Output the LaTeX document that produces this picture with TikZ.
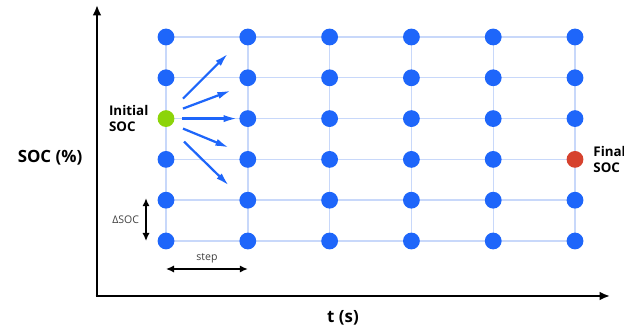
\documentclass[tikz,border=0pt]{standalone}
\usepackage{fontspec}
\setmainfont{Open Sans}
\usepackage{tikz}
\usetikzlibrary{arrows.meta, positioning, calc}
\definecolor{dotblue}{RGB}{30,102,250}
\definecolor{gridblue}{RGB}{200,216,250}
\definecolor{initgreen}{RGB}{140,212,10}
\definecolor{finalred}{RGB}{214,66,46}
\tikzset{
  dot/.style={circle, fill=dotblue, minimum size=0.42cm, inner sep=0pt},
  dot 0-3/.style={fill=initgreen},
  dot 5-2/.style={fill=finalred},
  gridline/.style={gridblue, line width=1pt},
  axis/.style={-{Latex[length=2.6mm, width=2.2mm]}, line width=1.8pt, black},
  move/.style={-{Latex[length=3.4mm, width=1.8mm]}, line width=1.6pt, dotblue},
  dim/.style={{Latex[length=2mm, width=1.8mm]}-{Latex[length=2mm, width=1.8mm]}, line width=1pt, black},
  bigtext/.style={font=\bfseries\fontsize{12}{14}\selectfont},
  endtext/.style={font=\bfseries\fontsize{9.5}{11}\selectfont, align=left},
  smalltext/.style={font=\fontsize{7.5}{9}\selectfont, text=black!75}
}
\begin{document}
\begin{tikzpicture}
  \useasboundingbox (0,0) rectangle (15.6,8.325);

  % Grid lines
  \foreach \r in {0,...,5}
    \draw[gridline] (4.15,2.3+1.02*\r) -- (14.375,2.3+1.02*\r);
  \foreach \c in {0,...,5}
    \draw[gridline] (4.15+2.045*\c,2.3) -- (4.15+2.045*\c,7.4);

  % Grid points
  \foreach \c in {0,...,5}
    \foreach \r in {0,...,5}
      \node[dot, dot \c-\r/.try] (n-\c-\r) at (4.15+2.045*\c,2.3+1.02*\r) {};

  % Axes
  \coordinate (orig) at (2.425,0.925);
  \coordinate (ytop) at (2.425,8.2);
  \coordinate (xend) at (15.25,0.925);
  \draw[axis] (orig) -- (ytop);
  \draw[axis] ([xshift=-0.9pt]orig) -- (xend);
  \node[bigtext] (ylab) at (1.25,4.375) {SOC (\%)};
  \node[bigtext] (xlab) at (8.575,0.375) {t (s)};

  % Start and end labels
  \node[endtext, anchor=east] (initlab) at ([xshift=-0.1cm]n-0-3.west) {Initial\\SOC};
  \node[endtext, anchor=west] (finallab) at ([xshift=0.12cm]n-5-2.east) {Final\\SOC};

  % Possible moves
  \draw[move] ($(n-0-3)+(0.425,0.5)$) -- ($(n-0-3)+(1.55,1.625)$);
  \draw[move] ($(n-0-3)+(0.425,0.25)$) -- ($(n-0-3)+(1.625,0.7)$);
  \draw[move] ($(n-0-3)+(0.4,0)$) -- ($(n-0-3)+(1.78,0)$);
  \draw[move] ($(n-0-3)+(0.425,-0.25)$) -- ($(n-0-3)+(1.575,-0.725)$);
  \draw[move] ($(n-0-3)+(0.45,-0.575)$) -- ($(n-0-3)+(1.575,-1.675)$);

  % Step sizes
  \coordinate (dtop) at ($(n-0-1)+(-0.5,0.05)$);
  \coordinate (dbot) at ($(n-0-0)+(-0.5,0)$);
  \draw[dim] (dtop) -- (dbot);
  \node[smalltext, anchor=east] (dlab) at ($(dtop)!0.5!(dbot)+(-0.05,0)$) {ΔSOC};
  \coordinate (sleft) at ($(n-0-0)+(0,-0.7)$);
  \coordinate (sright) at ($(n-1-0)+(0,-0.7)$);
  \draw[dim] (sleft) -- (sright);
  \node[smalltext, above=0.02cm] (slab) at ($(sleft)!0.5!(sright)$) {step};
\end{tikzpicture}
\end{document}
